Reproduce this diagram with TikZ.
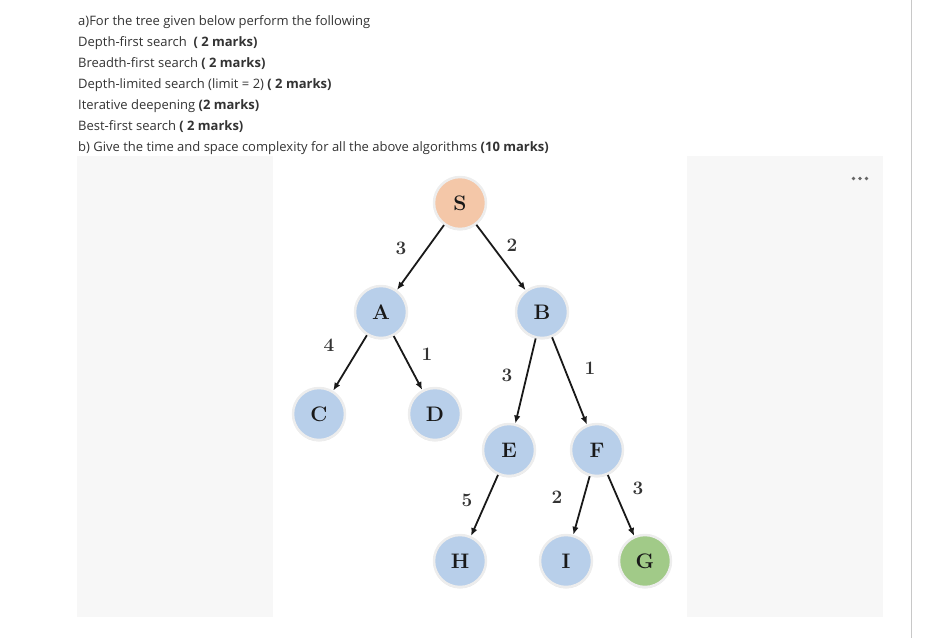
\documentclass[tikz,border=0pt]{standalone}
\usepackage{fontspec}
\usepackage{xcolor}
\usepackage{tikz}
\usetikzlibrary{arrows.meta,positioning,shadows}
\newfontfamily\qfont{Open Sans}
\definecolor{nodeblue}{RGB}{184,207,234}
\definecolor{nodepeach}{RGB}{244,199,168}
\definecolor{nodegreen}{RGB}{161,202,136}
\definecolor{panelgray}{RGB}{247,247,247}
\definecolor{rulegray}{RGB}{200,200,200}

\begin{document}
\begin{tikzpicture}[x=1pt, y=-1pt, q/.style={anchor=base west, inner sep=0pt, text=black!80, font=\qfont\fontsize{13}{15}\selectfont}, tnode/.style={circle, draw=black!7, line width=2.5pt, fill=nodeblue, minimum size=52pt, inner sep=0pt, text=black!90, font=\fontsize{21}{22}\selectfont\bfseries, drop shadow={shadow xshift=0pt, shadow yshift=-1.5pt, opacity=.2}}, wt/.style={inner sep=0pt, text=black!80, font=\fontsize{19}{19}\selectfont\bfseries}, arr/.style={-{Latex[length=8pt,width=6.5pt]}, line width=1.8pt, black!90}]
\useasboundingbox (0,0) rectangle (931,638);
% page furniture
\fill[panelgray] (77,156) rectangle (273,617);
\fill[panelgray] (687,156) rectangle (883,617);
\draw[rulegray, line width=1.5pt] (911.5,0) -- (911.5,638);
\foreach \x in {853.5,860,866.5} \fill[black!60] (\x,178.5) circle (1.9pt);
% question text
\node[q] (l1) at (78,25) {a)For the tree given below perform the following};
\node[q] (l2) at (78,46) {Depth-first search \ \textbf{( 2 marks)}};
\node[q] (l3) at (78,67) {Breadth-first search \textbf{( 2 marks)}};
\node[q] (l4) at (78,88) {Depth-limited search (limit = 2) \textbf{( 2 marks)}};
\node[q] (l5) at (78,109) {Iterative deepening \textbf{(2 marks)}};
\node[q] (l6) at (78,130) {Best-first search \textbf{( 2 marks)}};
\node[q] (l7) at (78,151) {b) Give the time and space complexity for all the above algorithms \textbf{(10 marks)}};
% tree
\node[tnode, fill=nodepeach] (s) at (460,203) {S};
\node[tnode] (a) at (381,312) {A};
\node[tnode] (b) at (542,312) {B};
\node[tnode] (c) at (319,414) {C};
\node[tnode] (d) at (435,414) {D};
\node[tnode] (e) at (509,450) {E};
\node[tnode] (f) at (597,450) {F};
\node[tnode] (h) at (460,561) {H};
\node[tnode] (i) at (566,561) {I};
\node[tnode, fill=nodegreen] (g) at (645,561) {G};
\draw[arr] (s)--(a); \draw[arr] (s)--(b); \draw[arr] (a)--(c); \draw[arr] (a)--(d); \draw[arr] (b)--(e); \draw[arr] (b)--(f); \draw[arr] (e)--(h); \draw[arr] (f)--(i); \draw[arr] (f)--(g);
% edge weights
\node[wt] (wsa) at (401,248) {\oldstylenums{3}};
\node[wt] (wsb) at (512,245) {\oldstylenums{2}};
\node[wt] (wac) at (329,345) {\oldstylenums{4}};
\node[wt] (wad) at (427,354) {\oldstylenums{1}};
\node[wt] (wbe) at (507,375) {\oldstylenums{3}};
\node[wt] (wbf) at (590,368) {\oldstylenums{1}};
\node[wt] (weh) at (467,500) {\oldstylenums{5}};
\node[wt] (wfi) at (557,497) {\oldstylenums{2}};
\node[wt] (wfg) at (638,488) {\oldstylenums{3}};
\end{tikzpicture}
\end{document}
